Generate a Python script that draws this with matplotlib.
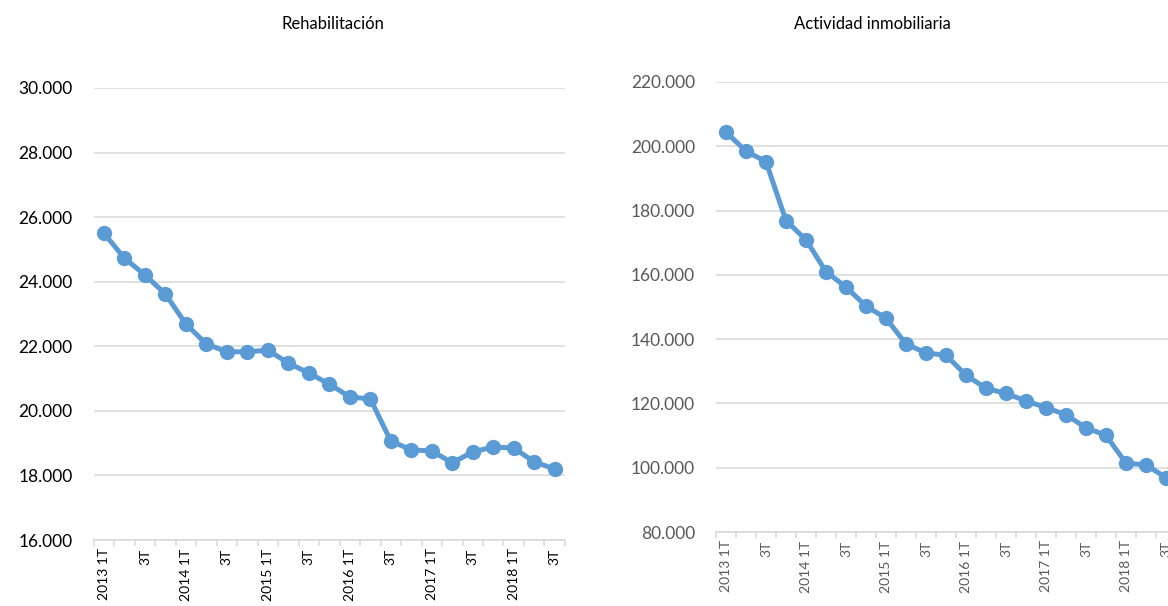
import matplotlib
matplotlib.use("Agg")
import matplotlib.pyplot as plt

# Quarterly series, 2013 1T to 2018 3T
quarters = ["2013 1T", "", "3T", "", "2014 1T", "", "3T", "", "2015 1T", "", "3T", "",
            "2016 1T", "", "3T", "", "2017 1T", "", "3T", "", "2018 1T", "", "3T"]

rehabilitacion = [25500, 24730, 24210, 23620, 22690, 22070, 21830, 21830, 21880,
                  21480, 21170, 20830, 20430, 20370, 19070, 18790, 18760, 18390,
                  18730, 18880, 18850, 18420, 18200]

actividad_inmobiliaria = [204400, 198500, 195200, 176900, 170900, 161000, 156200,
                          150300, 146500, 138500, 135700, 135000, 128800, 124700,
                          123100, 120800, 118700, 116500, 112400, 110100, 101400,
                          100900, 96900]

BLUE = "#5B9BD5"
GRID = "#D9D9D9"
FONT = "Lato"


def thousands(v):
    return f"{int(v):,}".replace(",", ".")


def draw_panel(ax, values, yticks, label_color, label_size, xlabel_color):
    n = len(values)
    xs = list(range(n))
    ax.plot(xs, values, color=BLUE, lw=3.6, marker="o", ms=11,
            markeredgewidth=0, solid_joinstyle="round", clip_on=False, zorder=3)

    ax.set_xlim(-0.5, n - 0.5)
    ax.set_ylim(yticks[0], yticks[-1])
    ax.set_yticks(yticks)
    ax.set_yticklabels([thousands(v) for v in yticks], fontsize=label_size,
                       color=label_color, family=FONT)
    ax.grid(axis="y", color=GRID, lw=1.1)
    ax.set_axisbelow(True)

    # tick marks on category boundaries, labels centred under each quarter
    ax.set_xticks([i - 0.5 for i in range(n + 1)])
    ax.set_xticklabels([])
    ax.set_xticks(xs, minor=True)
    ax.set_xticklabels(quarters, minor=True, rotation=90, fontsize=10,
                       color=xlabel_color, family=FONT, va="top", ha="center")
    ax.tick_params(axis="x", which="major", length=4, width=1.1, color=GRID)
    ax.tick_params(axis="x", which="minor", length=0, pad=6)
    ax.tick_params(axis="y", length=0, pad=15)

    for side in ("top", "right", "left"):
        ax.spines[side].set_visible(False)
    ax.spines["bottom"].set_color(GRID)
    ax.spines["bottom"].set_linewidth(1.1)


fig = plt.figure(figsize=(11.68, 6.06), dpi=100)

ax_left = fig.add_axes([0.0802, 0.1089, 0.4035, 0.7459])
draw_panel(ax_left, rehabilitacion, list(range(16000, 30001, 2000)),
           "#000000", 12.5, "#000000")

ax_right = fig.add_axes([0.613, 0.1221, 0.3938, 0.7426])
draw_panel(ax_right, actividad_inmobiliaria, list(range(80000, 220001, 20000)),
           "#595959", 12.5, "#595959")

fig.text(333 / 1168, 1 - 24 / 606, "Rehabilitación", ha="center", va="center",
         fontsize=12, family=FONT, color="#000000")
fig.text(872 / 1168, 1 - 24 / 606, "Actividad inmobiliaria", ha="center",
         va="center", fontsize=12, family=FONT, color="#000000")

fig.savefig("out.png", dpi=100, facecolor="white")
